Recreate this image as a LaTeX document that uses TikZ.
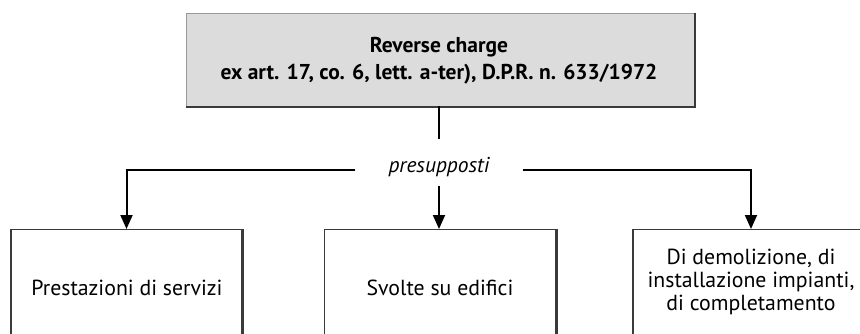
\documentclass[tikz,border=0pt]{standalone}
\usepackage{fontspec}
\setmainfont{PT Sans}
\usetikzlibrary{arrows.meta}
\definecolor{headfill}{HTML}{DCDCDC}
\definecolor{headedge}{HTML}{9A9A9A}
\definecolor{edgedark}{HTML}{3A3A3A}
\tikzset{
  x=1pt, y=-1pt,
  headbox/.style={draw=headedge, fill=headfill, line width=0.8pt,
    minimum width=508pt, minimum height=93pt, inner sep=0pt},
  headtext/.style={font=\fontsize{21.5}{27}\selectfont\bfseries, align=center, inner sep=0pt},
  itembox/.style={draw=edgedark, line width=1.3pt, minimum width=231pt,
    minimum height=120pt, anchor=north, inner sep=0pt},
  itemtext/.style={font=\fontsize{21.8}{23}\selectfont, align=center, inner sep=0pt},
  branch/.style={line width=2pt, draw=black},
  flow/.style={branch, -{Triangle[length=14pt,width=12pt]}},
  shade/.style={line width=1.6pt, draw=edgedark}
}
\begin{document}
\begin{tikzpicture}
\clip (0,0) rectangle (860,334);
\fill[white] (0,0) rectangle (860,334);

% heading box with its darker lower and right edges
\node[headbox] (head) at (440,59.5) {};
\draw[shade] ([xshift=0.5pt]head.north east) -- ([xshift=0.5pt,yshift=-0.5pt]head.south east) -- ([yshift=-0.5pt]head.south west);
\node[headtext] (headlbl) at (439,61)
  {Reverse charge\\ex art. 17, co. 6, lett. a-ter), D.P.R. n. 633/1972};

% branching label
\node[font=\fontsize{21.5}{24}\selectfont\itshape, text height=28pt, text depth=9pt,
      inner xsep=33pt, inner ysep=5pt, anchor=base] (pres) at (439,172) {presupposti};

% three item boxes, open at the bottom edge
\node[itembox] (left) at (126.5,229) {};
\node[itembox] (mid) at (440,229) {};
\node[itembox, minimum width=236pt] (right) at (751,229) {};
\draw[shade] ([xshift=0.8pt]left.north east) -- ([xshift=0.8pt]left.south east);
\draw[shade] ([xshift=0.8pt]mid.north east) -- ([xshift=0.8pt]mid.south east);

\node[itemtext] (lefttxt) at (127,288) {Prestazioni di servizi};
\node[itemtext] (midtxt) at (440,288) {Svolte su edifici};
\node[itemtext] (righttxt) at (751,282) {Di demolizione, di\\installazione impianti,\\di completamento};

% connectors
\draw[branch] (head.south -| pres.north) -- (pres.north);
\draw[flow] ([yshift=2pt]pres.base west) -| (left.north);
\draw[flow] ([yshift=2pt]pres.base east) -| (right.north);
\draw[flow] (pres.south) -- (pres.south |- mid.north);
\end{tikzpicture}
\end{document}
